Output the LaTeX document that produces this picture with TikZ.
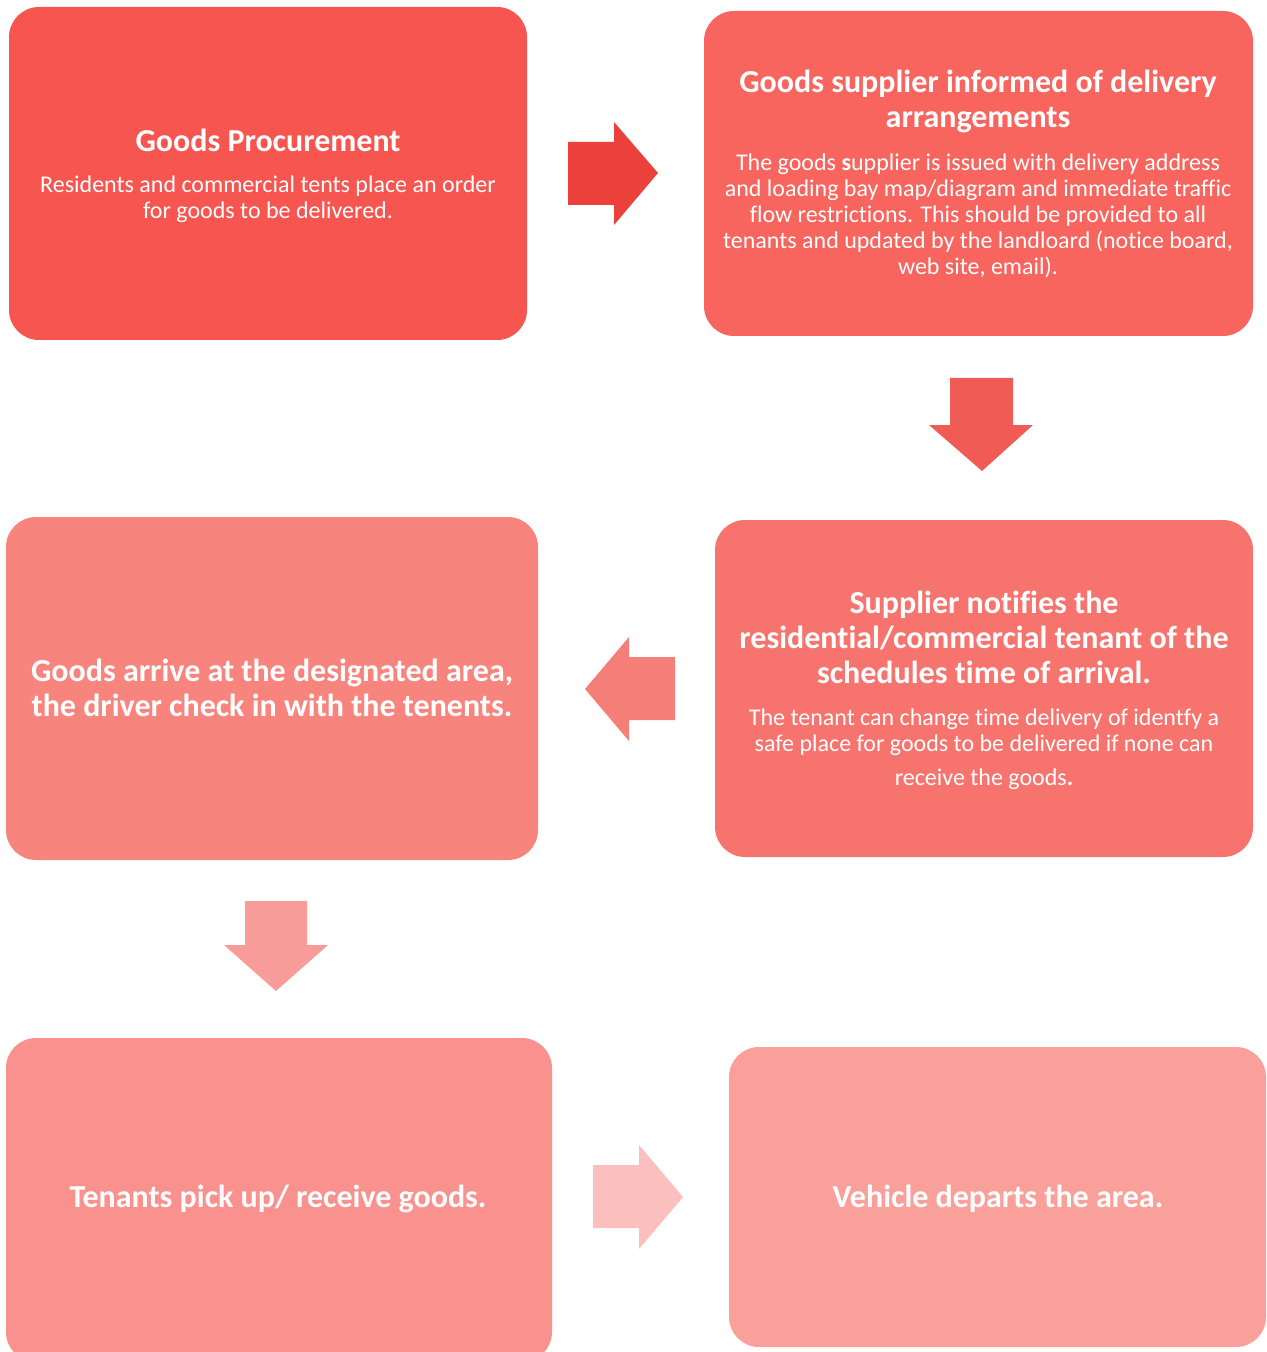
\documentclass[tikz,border=0pt]{standalone}
\usepackage{fontspec}
\setmainfont{Carlito}[Ligatures={NoCommon}]
\definecolor{c1}{HTML}{F75550}
\definecolor{c2}{HTML}{F8645E}
\definecolor{c3}{HTML}{F7736D}
\definecolor{c4}{HTML}{F8847E}
\definecolor{c5}{HTML}{F9928F}
\definecolor{c6}{HTML}{FAA09B}
\definecolor{a1}{HTML}{EC403A}
\definecolor{a2}{HTML}{F05B55}
\definecolor{a3}{HTML}{F67E79}
\definecolor{a4}{HTML}{F89C99}
\definecolor{a5}{HTML}{FBC0BE}
\begin{document}
\begin{tikzpicture}[x=0.5pt,y=-0.5pt,
  box/.style={rounded corners=15pt},
  ttl/.style={text=white,font=\fontsize{16}{17.5}\selectfont\bfseries,align=center,inner sep=0pt},
  bdy/.style={text=white,font=\fontsize{12}{13}\selectfont,align=center,inner sep=0pt}]
\useasboundingbox (0,0) rectangle (1266,1352);
\begin{scope}
\clip (0,0) rectangle (1266,1352);
% boxes
\fill[c1,box] (9,7) rectangle (527,340);
\fill[c2,box] (704,11) rectangle (1253,336);
\fill[c3,box] (715,520) rectangle (1253,857);
\fill[c4,box] (6,517) rectangle (538,860);
\fill[c5,box] (6,1038) rectangle (552,1362);
\fill[c6,box] (729,1047) rectangle (1266,1347);
\end{scope}
% arrows
\fill[a1] (568,142) -- (614,142) -- (614,122) -- (658,173) -- (614,225) -- (614,205) -- (568,205) -- cycle;
\fill[a2] (950,378) -- (1013,378) -- (1013,425) -- (1033,425) -- (982,471) -- (929,425) -- (950,425) -- cycle;
\fill[a3] (675,657) -- (629,657) -- (629,637) -- (585,689) -- (629,741) -- (629,720) -- (675,720) -- cycle;
\fill[a4] (245,901) -- (307,901) -- (307,945) -- (328,945) -- (276,991) -- (224,945) -- (245,945) -- cycle;
\fill[a5] (593,1165) -- (639,1165) -- (639,1145) -- (683,1197) -- (639,1249) -- (639,1228) -- (593,1228) -- cycle;
% texts
\node[ttl] (t1) at (268,140) {Goods Procurement};
\node[bdy] (b1) at (268,199) {Residents and commercial tents place an order\\for goods to be delivered.};
\node[ttl] (t2) at (978,101.5) {Goods supplier informed of delivery\\arrangements};
\node[bdy] (b2) at (978,215.5) {The goods \textbf{s}upplier is issued with delivery address\\and loading bay map/diagram and immediate traffic\\flow restrictions. This should be provided to all\\tenants and updated by the landloard (notice board,\\web site, email).};
\node[ttl] (t3) at (984,637) {Supplier notifies the\\residential/commercial tenant of the\\schedules time of arrival.};
\node[bdy] (b3) at (984,749) {The tenant can change time delivery of identfy a\\safe place for goods to be delivered if none can\\[4pt]receive the goods\textbf{.}};
\node[ttl] (t4) at (272,688) {Goods arrive at the designated area,\\the driver check in with the tenents.};
\node[ttl] (t5) at (278,1199) {Tenants pick up/ receive goods.};
\node[ttl] (t6) at (998,1199) {Vehicle departs the area.};
\end{tikzpicture}
\end{document}
